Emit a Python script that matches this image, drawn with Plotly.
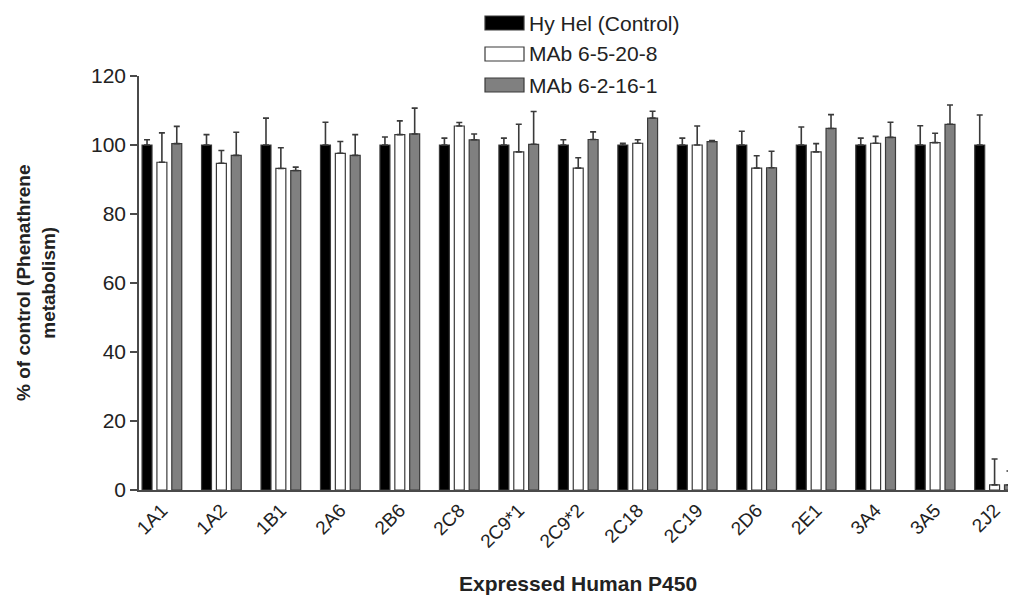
import plotly.graph_objects as go

categories = ["1A1", "1A2", "1B1", "2A6", "2B6", "2C8", "2C9*1", "2C9*2",
              "2C18", "2C19", "2D6", "2E1", "3A4", "3A5", "2J2"]

control_vals = [100, 100, 100, 100, 100, 100, 100, 100, 100, 100, 100, 100, 100, 100, 100]
control_err = [1.5, 3, 7.8, 6.6, 2.3, 2, 2, 1.5, 0.5, 2, 4, 5.2, 2, 5.6, 8.7]

mab1_vals = [95, 94.7, 93.2, 97.6, 103, 105.5, 98, 93.3, 100.5, 100, 93.3, 98, 100.5, 100.7, 1.5]
mab1_err = [8.5, 3.7, 6, 3.4, 4, 1, 8, 3, 1, 5.5, 3.6, 2.4, 2, 2.7, 7.5]

mab2_vals = [100.4, 97, 92.6, 97, 103.2, 101.5, 100.2, 101.6, 107.8, 101, 93.4, 104.8, 102.2, 106, 1.5]
mab2_err = [5, 6.7, 1, 6, 7.5, 1.7, 9.5, 2.2, 2, 0.3, 4.8, 4, 4.4, 5.6, 4]

series_names = ["Hy Hel (Control)", "MAb 6-5-20-8", "MAb 6-2-16-1"]
series_colors = ["#000000", "#ffffff", "#808080"]

y_ticks = [0, 20, 40, 60, 80, 100, 120]

FONT = "Liberation Sans, Arial, sans-serif"
AXIS = "#4a4a4a"
TXT = "#222222"

fig = go.Figure()
for name, vals, errs, col in zip(series_names,
                                 [control_vals, mab1_vals, mab2_vals],
                                 [control_err, mab1_err, mab2_err],
                                 series_colors):
    fig.add_trace(go.Bar(
        x=categories, y=vals, name=name, showlegend=False,
        marker=dict(color=col, line=dict(color="#3a3a3a", width=1.2)),
        error_y=dict(type="data", array=errs, arrayminus=[0] * len(errs),
                     symmetric=False, color="#3a3a3a", thickness=1.6, width=3),
    ))

# page body has an 8px margin: plot area spans screen x 139..1016, y 76..490
fig.update_layout(
    width=1016, height=596,
    margin=dict(l=131, r=8, t=68, b=114),
    paper_bgcolor="white", plot_bgcolor="white",
    barmode="group", bargap=0.25, bargroupgap=0.33,
    font=dict(family=FONT, color=TXT, size=18),
    xaxis=dict(
        type="category", range=[-0.385, 14.36],
        showline=True, linecolor=AXIS, linewidth=1.5,
        ticks="", tickangle=-45, showgrid=False, zeroline=False,
        tickfont=dict(size=19, color=TXT, family=FONT),
    ),
    yaxis=dict(
        range=[0, 120], tickvals=y_ticks,
        showline=True, linecolor=AXIS, linewidth=1.5,
        ticks="outside", ticklen=7, tickwidth=1.5, tickcolor=AXIS,
        showgrid=False, zeroline=False,
        tickfont=dict(size=21, color=TXT, family=FONT),
    ),
)

PW, PH = 877.0, 414.0


def px_x(p):
    return (p - 139) / PW


def px_y(p):
    return (490 - p) / PH


# axis titles
fig.add_annotation(text="<b>% of control (Phenathrene<br>metabolism)</b>",
                   xref="paper", yref="paper", x=px_x(36), y=0.5,
                   xanchor="center", yanchor="middle", textangle=-90,
                   showarrow=False, font=dict(size=19, color=TXT, family=FONT))
fig.add_annotation(text="<b>Expressed Human P450</b>",
                   xref="paper", yref="paper", x=0.5, y=px_y(583),
                   xanchor="center", yanchor="middle",
                   showarrow=False, font=dict(size=21, color=TXT, family=FONT))

# custom legend with wide swatches
row_px = [23, 54, 85]
for name, col, py in zip(series_names, series_colors, row_px):
    fig.add_shape(type="rect", xref="paper", yref="paper",
                  x0=px_x(485), x1=px_x(524),
                  y0=px_y(py + 7), y1=px_y(py - 7),
                  fillcolor=col, line=dict(color="#3a3a3a", width=1.2))
    fig.add_annotation(text=name, xref="paper", yref="paper",
                       x=px_x(527), y=px_y(py),
                       xanchor="left", yanchor="middle", showarrow=False,
                       font=dict(size=21, color=TXT, family=FONT))

fig.write_html("out.html")
